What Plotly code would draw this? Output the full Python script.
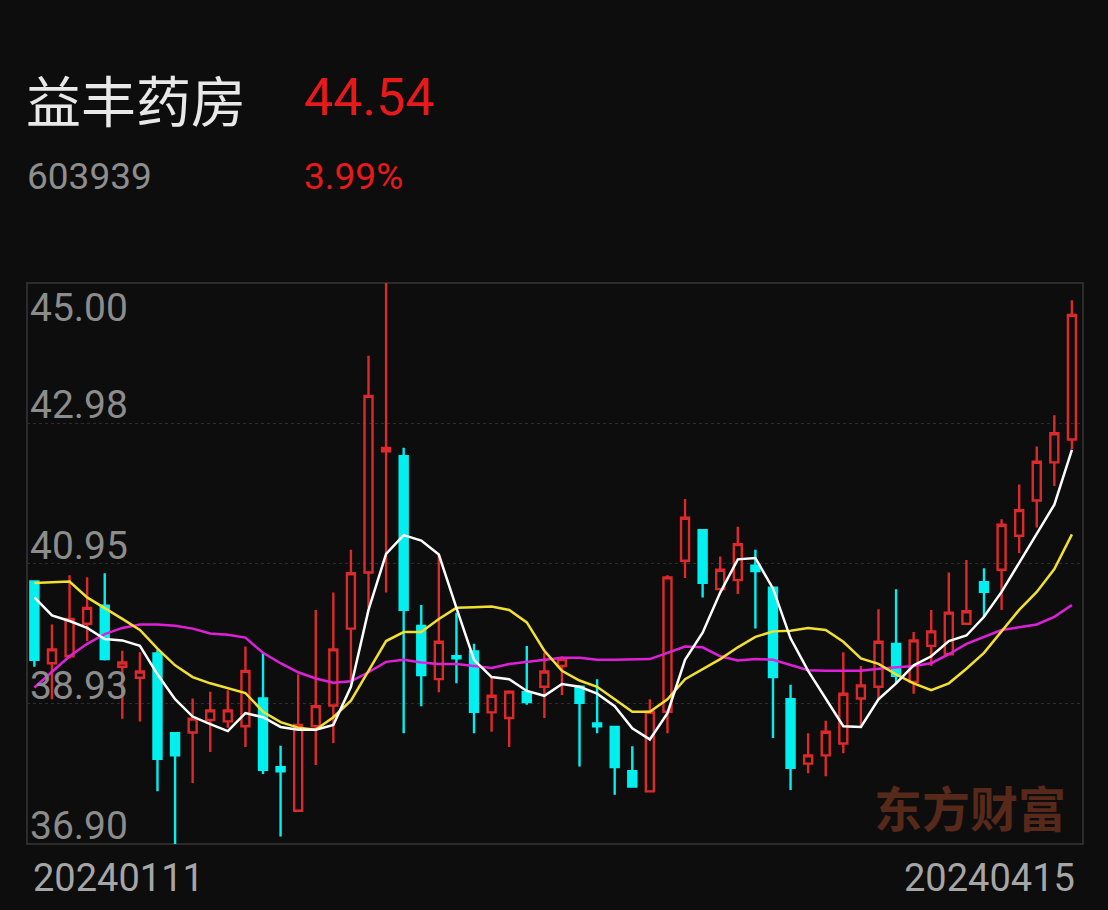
import plotly.graph_objects as go

# ---------------- data ----------------
dates = ["20240111","20240112","20240115","20240116","20240117","20240118","20240119",
         "20240122","20240123","20240124","20240125","20240126","20240129","20240130",
         "20240131","20240201","20240202","20240205","20240206","20240207","20240208",
         "20240219","20240220","20240221","20240222","20240223","20240226","20240227",
         "20240228","20240229","20240301","20240304","20240305","20240306","20240307",
         "20240308","20240311","20240312","20240313","20240314","20240315","20240318",
         "20240319","20240320","20240321","20240322","20240325","20240326","20240327",
         "20240328","20240329","20240401","20240402","20240403","20240408","20240409",
         "20240410","20240411","20240412","20240415"]

opens = [40.69, 39.51, 39.61, 40.08, 40.34, 39.46, 39.30, 39.65, 38.50, 38.51,
         38.69, 38.67, 38.60, 39.00, 38.01, 37.38, 38.60, 38.90, 40.01, 40.82,
         42.57, 42.50, 40.05, 39.28, 39.61, 39.68, 38.80, 38.72, 39.09, 39.17,
         39.47, 39.17, 38.64, 38.59, 37.95, 37.66, 38.81, 40.99, 41.43, 40.58,
         40.71, 40.92, 40.60, 38.99, 38.06, 38.18, 38.35, 39.00, 39.17, 39.79,
         39.24, 39.76, 39.64, 40.08, 40.68, 40.86, 41.35, 41.86, 42.41, 42.74]
highs = [40.70, 40.07, 40.78, 40.75, 40.81, 39.69, 39.67, 39.71, 38.50, 39.00,
         39.10, 39.12, 39.75, 39.66, 38.32, 39.35, 40.28, 40.53, 41.15, 43.95,
         45.00, 42.62, 40.35, 41.08, 40.24, 39.79, 39.30, 39.12, 39.76, 39.66,
         39.61, 39.17, 39.28, 38.60, 38.31, 38.99, 40.78, 41.88, 41.43, 41.05,
         41.48, 41.15, 40.60, 39.20, 38.50, 38.68, 39.67, 39.47, 40.29, 40.58,
         39.96, 40.28, 40.82, 41.00, 40.88, 41.59, 42.09, 42.64, 43.09, 44.75]
lows = [39.46, 38.99, 39.58, 39.83, 39.55, 38.71, 38.67, 37.66, 36.90, 37.78,
        38.23, 38.58, 38.30, 37.91, 37.01, 37.38, 38.04, 38.36, 39.25, 40.31,
        40.53, 38.50, 38.89, 39.09, 39.22, 38.50, 38.52, 38.30, 38.91, 38.72,
        39.05, 38.02, 38.50, 37.61, 37.73, 37.66, 38.50, 40.74, 40.46, 40.56,
        40.51, 40.01, 38.43, 37.68, 37.92, 37.88, 38.21, 38.61, 38.99, 39.21,
        39.07, 39.47, 39.62, 40.08, 40.18, 40.28, 41.10, 41.47, 42.07, 42.60]
closes = [39.56, 39.71, 40.15, 40.31, 39.57, 39.52, 39.39, 38.13, 38.18, 38.71,
          38.83, 38.83, 39.40, 37.97, 37.95, 38.62, 38.89, 39.71, 40.81, 43.37,
          42.62, 40.28, 39.34, 39.82, 39.58, 38.81, 39.04, 39.10, 38.95, 39.39,
          39.57, 38.94, 38.60, 38.01, 37.73, 38.81, 40.75, 41.61, 40.67, 40.86,
          41.23, 40.84, 39.31, 38.00, 38.18, 38.52, 39.07, 39.19, 39.82, 39.33,
          39.84, 39.97, 40.24, 40.26, 40.54, 41.51, 41.72, 42.42, 42.83, 44.54]

ma5 = [40.46, 40.20, 40.12, 40.02, 39.86, 39.84, 39.76, 39.35, 38.99, 38.74,
       38.63, 38.53, 38.79, 38.73, 38.59, 38.55, 38.55, 38.62, 39.17, 40.28,
       41.09, 41.36, 41.28, 41.08, 40.31, 39.56, 39.31, 39.28, 39.11, 39.04,
       39.21, 39.17, 39.07, 38.89, 38.57, 38.41, 38.79, 39.56, 39.95, 40.53,
       41.01, 41.03, 40.59, 39.87, 39.40, 38.99, 38.60, 38.59, 38.99, 39.22,
       39.48, 39.61, 39.83, 39.91, 40.18, 40.54, 40.96, 41.36, 41.80, 42.59]
ma10 = [40.67, 40.68, 40.69, 40.46, 40.31, 40.15, 39.99, 39.72, 39.48, 39.31,
        39.22, 39.15, 39.08, 38.81, 38.66, 38.58, 38.55, 38.73, 38.97, 39.40,
        39.83, 39.96, 39.96, 40.15, 40.31, 40.32, 40.33, 40.28, 40.10, 39.69,
        39.40, 39.26, 39.17, 38.99, 38.81, 38.81, 38.99, 39.28, 39.43, 39.57,
        39.74, 39.89, 39.97, 39.98, 40.02, 39.99, 39.82, 39.58, 39.50, 39.35,
        39.22, 39.12, 39.22, 39.43, 39.66, 39.97, 40.28, 40.54, 40.87, 41.37]
ma20 = [39.16, 39.38, 39.61, 39.79, 39.93, 40.02, 40.07, 40.07, 40.05, 40.01,
        39.94, 39.92, 39.88, 39.66, 39.51, 39.38, 39.29, 39.23, 39.25, 39.38,
        39.53, 39.56, 39.52, 39.50, 39.50, 39.47, 39.44, 39.50, 39.53, 39.57,
        39.59, 39.59, 39.56, 39.56, 39.56, 39.57, 39.66, 39.75, 39.74, 39.61,
        39.55, 39.57, 39.56, 39.48, 39.41, 39.40, 39.40, 39.40, 39.43, 39.45,
        39.47, 39.51, 39.64, 39.79, 39.89, 39.99, 40.03, 40.07, 40.18, 40.35]

y_ticks = [36.90, 38.925, 40.95, 42.975, 45.00]
y_tick_labels = ["36.90", "38.93", "40.95", "42.98", "45.00"]

stock_name = "益丰药房"
stock_code = "603939"
last_price = "44.54"
change_pct = "3.99%"
watermark = "东方财富"

# ---------------- style ----------------
BG = "#0d0d0d"
RED = "#dc2a2a"
CYAN = "#00f0f0"
W, H = 1108, 910
L, R, T, B = 27, 1083, 283, 844  # plot area in pixels


def px(xp):
    return (xp - L) / (R - L)


def py(yp):
    return (B - yp) / (B - T)


fig = go.Figure()
fig.add_trace(go.Candlestick(
    x=dates, open=opens, high=highs, low=lows, close=closes,
    increasing=dict(line=dict(color=RED, width=2.4), fillcolor="rgba(0,0,0,0)"),
    decreasing=dict(line=dict(color=CYAN, width=2.4), fillcolor=CYAN),
    whiskerwidth=0, showlegend=False, name="K"))
for ys, col in [(ma20, "#e020d8"), (ma10, "#f2e030"), (ma5, "#ffffff")]:
    fig.add_trace(go.Scatter(x=dates, y=ys, mode="lines",
                             line=dict(color=col, width=2.5), showlegend=False))

ann = []
# header
ann.append(dict(text=stock_name, x=px(24), y=py(98), xanchor="left", yanchor="middle",
                font=dict(family="Noto Sans CJK SC", size=55, color="#e8e8e8")))
ann.append(dict(text=last_price, x=px(302), y=py(98), xanchor="left", yanchor="middle",
                font=dict(family="Roboto", size=52, color="#e8191a")))
ann.append(dict(text=stock_code, x=px(25), y=py(176), xanchor="left", yanchor="middle",
                font=dict(family="Roboto", size=37, color="#8e8e8e")))
ann.append(dict(text=change_pct, x=px(302), y=py(176), xanchor="left", yanchor="middle",
                font=dict(family="Roboto", size=37, color="#e8191a")))
# y tick labels inside plot
for v, t in zip(y_ticks, y_tick_labels):
    shift = -25 if v == max(y_ticks) else 18
    ann.append(dict(text=t, xref="paper", yref="y", x=px(28), y=v, yshift=shift,
                    xanchor="left", yanchor="middle",
                    font=dict(family="Roboto", size=39, color="#8c8c8c")))
# date labels
ann.append(dict(text=dates[0], x=px(31), y=py(878), xanchor="left", yanchor="middle",
                font=dict(family="Roboto", size=38, color="#a6a6a6")))
ann.append(dict(text=dates[-1], x=px(1077), y=py(878), xanchor="right", yanchor="middle",
                font=dict(family="Roboto", size=38, color="#a6a6a6")))
# watermark
ann.append(dict(text="<b>" + watermark + "</b>", x=px(970), y=py(806), xanchor="center",
                yanchor="middle",
                font=dict(family="Noto Sans CJK SC", size=48, color="#57291a")))
for a in ann:
    a.setdefault("xref", "paper")
    a.setdefault("yref", "paper")
    a["showarrow"] = False

fig.update_layout(
    width=W, height=H,
    margin=dict(l=L, r=W - R, t=T, b=H - B, pad=0),
    paper_bgcolor=BG, plot_bgcolor=BG,
    boxgap=0.35,
    annotations=ann,
    shapes=[dict(type="rect", xref="paper", yref="paper", x0=0, x1=1, y0=0, y1=1,
                 line=dict(color="#2c2c2c", width=2), layer="below")],
    xaxis=dict(type="category", range=[-0.42, 59.63], showticklabels=False,
               showgrid=False, zeroline=False, rangeslider=dict(visible=False),
               fixedrange=True),
    yaxis=dict(range=[y_ticks[0], y_ticks[-1]], tickvals=y_ticks[1:-1],
               showticklabels=False, showgrid=True, gridcolor="#2e2e2e",
               griddash="dot", gridwidth=1, zeroline=False, fixedrange=True),
    hovermode=False,
)

fig.write_html(
    "out.html",
    config={"displayModeBar": False},
    post_script="document.body.style.margin='0';document.body.style.padding='0';"
                "document.body.style.background='" + BG + "';"
                "document.body.style.overflow='hidden';",
)
